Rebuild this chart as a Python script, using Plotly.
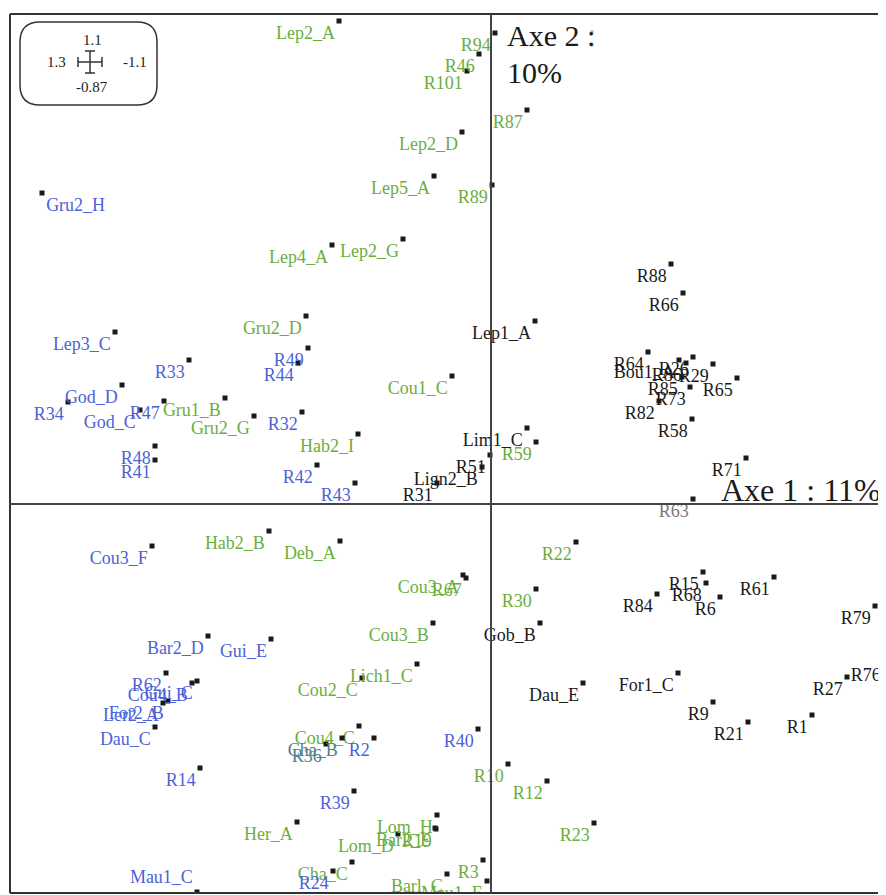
import plotly.graph_objects as go

# ---- data: scores on axis 1 (x) and axis 2 (y), grouped by label colour ----
green_names = ["Lep2_A", "R94", "R46", "R101", "R87", "Lep2_D", "Lep5_A", "R89", "Lep4_A", "Lep2_G",
               "Gru2_D", "Cou1_C", "Gru1_B", "Gru2_G", "Hab2_I", "R59", "Hab2_B", "Deb_A", "R22",
               "Cou3_A", "R67", "R30", "Cou3_B", "Lich1_C", "Cou2_C", "Cou4_C", "R10", "R12", "Her_A",
               "Lom_H", "Bar2_E", "R19", "Lom_D", "Cha_C", "R23", "R3", "Barl_C", "Mau1_E"]
green_ax1 = [-1.52, 0.04, -0.12, -0.24, 0.36, -0.29, -0.57, 0.01, -1.59, -0.88,
             -1.85, -0.39, -2.66, -2.37, -1.33, 0.45, -2.22, -1.51, 0.85,
             -0.28, -0.25, 0.45, -0.58, -0.74, -1.29, -1.32, 0.17, 0.56, -1.94,
             -0.54, -0.56, -0.55, -0.93, -1.39, 1.03, -0.08, -0.44, -0.04]
green_ax2 = [4.83, 4.71, 4.50, 4.33, 3.94, 3.72, 3.28, 3.19, 2.59, 2.65,
             1.88, 1.28, 1.06, 0.88, 0.70, 0.62, -0.27, -0.37, -0.38,
             -0.71, -0.74, -0.85, -1.19, -1.60, -1.74, -2.22, -2.60, -2.77, -3.18,
             -3.11, -3.24, -3.25, -3.30, -3.58, -3.19, -3.56, -3.70, -3.77]

blue_names = ["Gru2_H", "Lep3_C", "R33", "God_D", "R34", "God_C", "R47", "R49", "R44", "R32",
              "R48", "R41", "R42", "R43", "Cou3_F", "Bar2_D", "Gui_E", "Gui_C", "R62", "Cou4_B",
              "Ler2_A", "For2_B", "Dau_C", "R14", "R2", "R40", "R39", "Mau1_C", "R24"]
blue_ax1 = [-4.49, -3.76, -3.02, -3.69, -4.23, -3.51, -3.27, -1.83, -1.93, -1.89,
            -3.36, -3.36, -1.74, -1.36, -3.39, -2.83, -2.20, -2.94, -3.25, -2.99,
            -3.28, -3.23, -3.36, -2.91, -1.17, -0.13, -1.37, -2.94, -1.58]
blue_ax2 = [3.11, 1.72, 1.44, 1.19, 1.02, 0.94, 1.03, 1.56, 1.41, 0.92,
            0.58, 0.44, 0.39, 0.21, -0.42, -1.32, -1.35, -1.77, -1.69, -1.79,
            -1.99, -1.97, -2.23, -2.64, -2.34, -2.25, -2.87, -3.88, -3.67]

black_names = ["Lep1_A", "Lim1_C", "R51", "Lign2_B", "R31", "R88", "R66", "R64", "Bou1_A", "R86",
               "R26", "R29", "R65", "R85", "R73", "R82", "R58", "R71", "R15", "R68", "R6", "R84",
               "R61", "R79", "Gob_B", "Dau_E", "For1_C", "R9", "R21", "R1", "R27", "R76"]
black_ax1 = [0.44, 0.36, -0.01, -0.09, -0.54, 1.80, 1.92, 1.57, 1.88, 1.95,
             2.02, 2.22, 2.46, 1.91, 1.99, 1.68, 2.01, 2.55, 2.12, 2.15, 2.29, 1.66,
             2.83, 3.84, 0.49, 0.92, 1.87, 2.22, 2.57, 3.21, 3.56, 3.94]
black_ax2 = [1.83, 0.76, 0.49, 0.37, 0.21, 2.40, 2.11, 1.52, 1.44, 1.41,
             1.47, 1.40, 1.26, 1.27, 1.17, 1.03, 0.85, 0.46, -0.68, -0.79, -0.93, -0.90,
             -0.73, -1.02, -1.19, -1.79, -1.69, -1.98, -2.18, -2.11, -1.73, -1.59]

grey_names = ["R63"]
grey_ax1 = [2.02]
grey_ax2 = [0.05]

teal_names = ["Cha_B", "R36"]
teal_ax1 = [-1.49, -1.65]
teal_ax2 = [-2.34, -2.40]

faint_ax1 = [1.01, 1.01]
faint_ax2 = [4.72, 4.59]

scale_labels = ["1.1", "1.3", "-1.1", "-0.87"]
axis1_title = "Axe 1 : 11%"
axis2_title = ["Axe 2 :", "10%"]

FONT = "Liberation Serif"
SPECIAL_POS = {"Gru2_H": "bottom right", "Mau1_C": "top left"}
fig = go.Figure()


def add_group(names, xs, ys, color):
    pos = [SPECIAL_POS.get(n, "bottom left") for n in names]
    fig.add_trace(go.Scatter(
        x=xs, y=ys, text=names, mode="markers+text", textposition=pos,
        marker=dict(symbol="square", size=5, color="#1a1a1a"),
        textfont=dict(family=FONT, size=18, color=color),
        hoverinfo="text", showlegend=False))


add_group(green_names, green_ax1, green_ax2, "#6aae3e")
add_group(blue_names, blue_ax1, blue_ax2, "#4c62d8")
add_group(black_names, black_ax1, black_ax2, "#1a1a1a")
add_group(grey_names, grey_ax1, grey_ax2, "#7a7a7a")
add_group(teal_names, teal_ax1, teal_ax2, "#4f7f88")
fig.add_trace(go.Scatter(x=faint_ax1, y=faint_ax2, mode="markers",
                         marker=dict(symbol="square", size=3, color="#aaaaaa"),
                         hoverinfo="skip", showlegend=False))

shapes = []
# frame (top, left, bottom)
for x0, y0, x1, y1 in [(0, 1, 1, 1), (0, 0, 0, 1), (0, 0, 1, 0)]:
    shapes.append(dict(type="line", xref="paper", yref="paper", x0=x0, y0=y0, x1=x1, y1=y1,
                       line=dict(color="#333333", width=2)))
# axes through origin
shapes.append(dict(type="line", xref="x", yref="paper", x0=0, x1=0, y0=0, y1=1,
                   line=dict(color="#444444", width=2)))
shapes.append(dict(type="line", xref="paper", yref="y", x0=0, x1=1, y0=0, y1=0,
                   line=dict(color="#444444", width=2)))

# scale box (rounded rectangle) top-left
bx0, bx1, by0, by1, r = -4.71, -3.34, 3.99, 4.82, 0.2
path = (f"M {bx0+r},{by1} L {bx1-r},{by1} Q {bx1},{by1} {bx1},{by1-r} "
        f"L {bx1},{by0+r} Q {bx1},{by0} {bx1-r},{by0} L {bx0+r},{by0} "
        f"Q {bx0},{by0} {bx0},{by0+r} L {bx0},{by1-r} Q {bx0},{by1} {bx0+r},{by1} Z")
shapes.append(dict(type="path", path=path, xref="x", yref="y",
                   line=dict(color="#333333", width=1.5)))
cx, cy = -4.01, 4.42
for x0, y0, x1, y1 in [(cx - 0.12, cy, cx + 0.12, cy), (cx, cy - 0.11, cx, cy + 0.11),
                       (cx - 0.12, cy - 0.05, cx - 0.12, cy + 0.05),
                       (cx + 0.12, cy - 0.05, cx + 0.12, cy + 0.05),
                       (cx - 0.05, cy + 0.11, cx + 0.05, cy + 0.11),
                       (cx - 0.05, cy - 0.11, cx + 0.05, cy - 0.11)]:
    shapes.append(dict(type="line", xref="x", yref="y", x0=x0, y0=y0, x1=x1, y1=y1,
                       line=dict(color="#333333", width=1.5)))

annotations = []
for txt, ax, ay in zip(scale_labels, [cx + 0.02, -4.35, -3.56, cx + 0.02], [4.64, 4.42, 4.42, 4.17]):
    annotations.append(dict(x=ax, y=ay, xref="x", yref="y", text=txt, showarrow=False,
                            font=dict(family=FONT, size=15, color="#222222")))
annotations.append(dict(x=0.14, y=4.69, xref="x", yref="y", text=axis2_title[0], xanchor="left",
                        showarrow=False, font=dict(family=FONT, size=30, color="#1a1a1a")))
annotations.append(dict(x=0.14, y=4.32, xref="x", yref="y", text=axis2_title[1], xanchor="left",
                        showarrow=False, font=dict(family=FONT, size=30, color="#1a1a1a")))
annotations.append(dict(x=2.28, y=0.14, xref="x", yref="y", text=axis1_title, xanchor="left",
                        showarrow=False, font=dict(family=FONT, size=32, color="#1a1a1a")))

# the page body adds an 8px offset, so the figure is 878x887 with small margins
fig.update_layout(
    width=878, height=887,
    margin=dict(l=2, r=0, t=6, b=2),
    paper_bgcolor="white", plot_bgcolor="white",
    xaxis=dict(range=[-4.81, 3.95], showgrid=False, zeroline=False, showticklabels=False,
               showline=False, ticks=""),
    yaxis=dict(range=[-3.89, 4.90], showgrid=False, zeroline=False, showticklabels=False,
               showline=False, ticks=""),
    shapes=shapes, annotations=annotations,
)

fig.write_html("out.html")
